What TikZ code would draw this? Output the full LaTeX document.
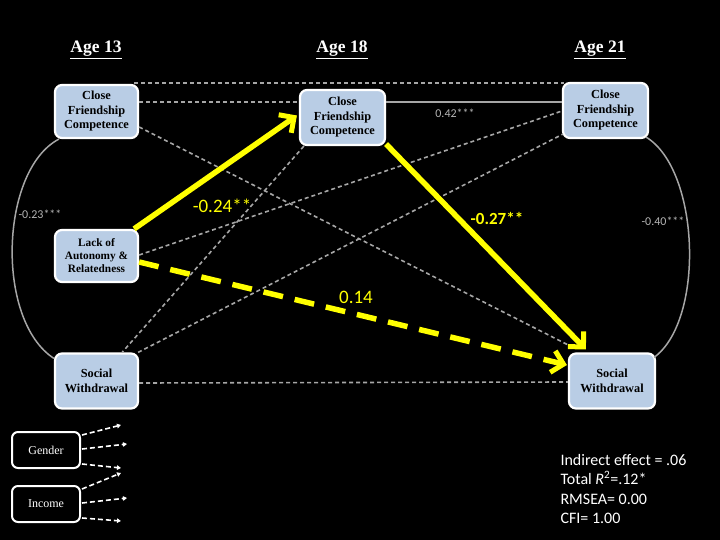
\documentclass[tikz,border=0pt]{standalone}
\usepackage{fontspec}
\setmainfont{Liberation Serif}
\newfontfamily\carl{Carlito}
\usetikzlibrary{arrows.meta,calc}
\definecolor{boxblue}{HTML}{B9CDE5}
\definecolor{lgrey}{HTML}{A6A6A6}
\definecolor{tgrey}{HTML}{B4B4B4}
\definecolor{ylw}{HTML}{FFFF00}
\begin{document}
\begin{tikzpicture}[x=1pt,y=-1pt,
  varbox/.style={draw=white, line width=2.2pt, fill=boxblue, rounded corners=7pt, align=center,
    font=\bfseries\fontsize{12.3}{14.5}\selectfont, inner sep=0pt, text=black},
  ctrlbox/.style={draw=white, line width=2pt, fill=black, rounded corners=6pt, text=white,
    font=\fontsize{12}{14}\selectfont, inner sep=0pt, minimum width=68pt, minimum height=36pt},
  agetitle/.style={text=white, font=\bfseries\fontsize{17.5}{20}\selectfont},
  gdash/.style={draw=lgrey, line width=1.6pt, dash pattern=on 4pt off 3pt},
  gsolid/.style={draw=lgrey, line width=1.5pt},
  ysolid/.style={draw=ylw, line width=5.5pt, -{Straight Barb[length=11pt,width=22pt,line width=5pt]}},
  ydash/.style={draw=ylw, line width=5.5pt, dash pattern=on 20pt off 12pt, -{Straight Barb[length=11pt,width=22pt,line width=5pt]}},
  wdash/.style={draw=white, line width=1.6pt, dash pattern=on 5pt off 3pt, -{Triangle[length=4pt,width=4.5pt]}},
  glabel/.style={text=tgrey, font=\carl\fontsize{12}{14}\selectfont},
  ylabel/.style={text=ylw, font=\carl\fontsize{19}{22}\selectfont},
]
\fill[black] (0,0) rectangle (720,540);
\useasboundingbox (0,0) rectangle (720,540);

% titles
\node[agetitle] (t13) at (96,50) {\underline{Age 13}};
\node[agetitle] (t18) at (342,50) {\underline{Age 18}};
\node[agetitle] (t21) at (600,50) {\underline{Age 21}};

% variable boxes
\node[varbox, minimum width=83pt, minimum height=53pt] (a13) at (96.5,111.5) {Close\\Friendship\\Competence};
\node[varbox, minimum width=85pt, minimum height=55pt] (a18) at (342.5,117.5) {Close\\Friendship\\Competence};
\node[varbox, minimum width=85pt, minimum height=55pt] (a21) at (605.5,110.5) {Close\\Friendship\\Competence};
\node[varbox, minimum width=83pt, minimum height=52pt, font=\bfseries\fontsize{11.3}{13}\selectfont] (lar) at (96.5,256) {Lack of\\Autonomy \&\\Relatedness};
\node[varbox, minimum width=83pt, minimum height=55pt, font=\bfseries\fontsize{12.3}{15}\selectfont] (sw13) at (96.5,381) {Social\\Withdrawal};
\node[varbox, minimum width=86pt, minimum height=55pt, font=\bfseries\fontsize{12.3}{15}\selectfont] (sw21) at (612,381) {Social\\Withdrawal};

% control boxes
\node[ctrlbox] (gender) at (46,450) {Gender};
\node[ctrlbox] (income) at (46,504) {Income};

% grey connectors
\draw[gdash] ($(a13.north east)+(-5,-1)$) -- ($(a21.north west)+(2,1)$);
\draw[gdash] ($(a13.east)+(0,-9.5)$) -- ($(a18.west)+(0,-15.5)$);
\draw[gsolid] ($(a18.east)+(0,-15.5)$) -- ($(a21.west)+(0,-8.5)$);
\draw[gdash] ($(a13.east)+(0,15.5)$) -- ($(sw21.north west)+(7,-4)$);
\draw[gdash] ($(a18.south west)+(5,0)$) -- ($(sw13.north east)+(-17,0)$);
\draw[gdash] ($(lar.east)+(0,-1)$) -- ($(a21.west)+(0,0.5)$);
\draw[gdash] ($(sw13.north east)+(-1,0)$) -- ($(a21.south west)+(1,-5)$);
\draw[gdash] ($(sw13.east)+(0,2)$) -- ($(sw21.west)+(0,1)$);

% covariance arcs
\draw[gsolid] ($(a13.south west)+(5,0)$) .. controls (0,170) and (-5,320) .. ($(sw13.north west)+(0,6)$);
\draw[gsolid] ($(a21.south east)+(-3,-2)$) .. controls (700,170) and (705,320) .. ($(sw21.north east)+(-2,5)$);

% yellow paths
\draw[ysolid] ($(lar.north east)+(-5,0)$) -- ($(a18.west)+(-2,-2)$);
\draw[ysolid] ($(a18.south east)+(0,-2)$) -- ($(sw21.north west)+(18,-3)$);
\draw[ydash] ($(lar.east)+(0,6)$) -- ($(sw21.west)+(-1,-16)$);

% labels
\node[glabel] (l42) at (455,113) {0.42***};
\node[glabel] (l23) at (40,214) {-0.23***};
\node[glabel] (l40) at (663,221) {-0.40***};
\node[ylabel] (l24) at (222,206) {-0.24**};
\node[ylabel, font=\carl\bfseries\fontsize{17}{20}\selectfont] (l27) at (497,218) {-0.27**};
\node[ylabel] (l14) at (356,297) {0.14};

% control arrows
\coordinate (g1) at (121,425);
\coordinate (g2) at (127,444);
\coordinate (g3) at (121,468);
\coordinate (i1) at (121,473);
\coordinate (i2) at (127,498);
\coordinate (i3) at (121,521);
\draw[wdash] ($(gender.north east)+(1,4)$) -- (g1);
\draw[wdash] ($(gender.east)+(1,-1)$) -- (g2);
\draw[wdash] ($(gender.south east)+(1,-5)$) -- (g3);
\draw[wdash] ($(income.north east)+(1,4)$) -- (i1);
\draw[wdash] ($(income.east)+(1,-1)$) -- (i2);
\draw[wdash] ($(income.south east)+(1,-5)$) -- (i3);

% fit statistics
\node[text=white, anchor=west, align=left, font=\carl\fontsize{16}{19.3}\selectfont] (fit) at (557,489)
  {Indirect effect = .06\\Total \textit{R}\textsuperscript{2}=.12*\\RMSEA= 0.00\\CFI= 1.00};
\end{tikzpicture}
\end{document}
